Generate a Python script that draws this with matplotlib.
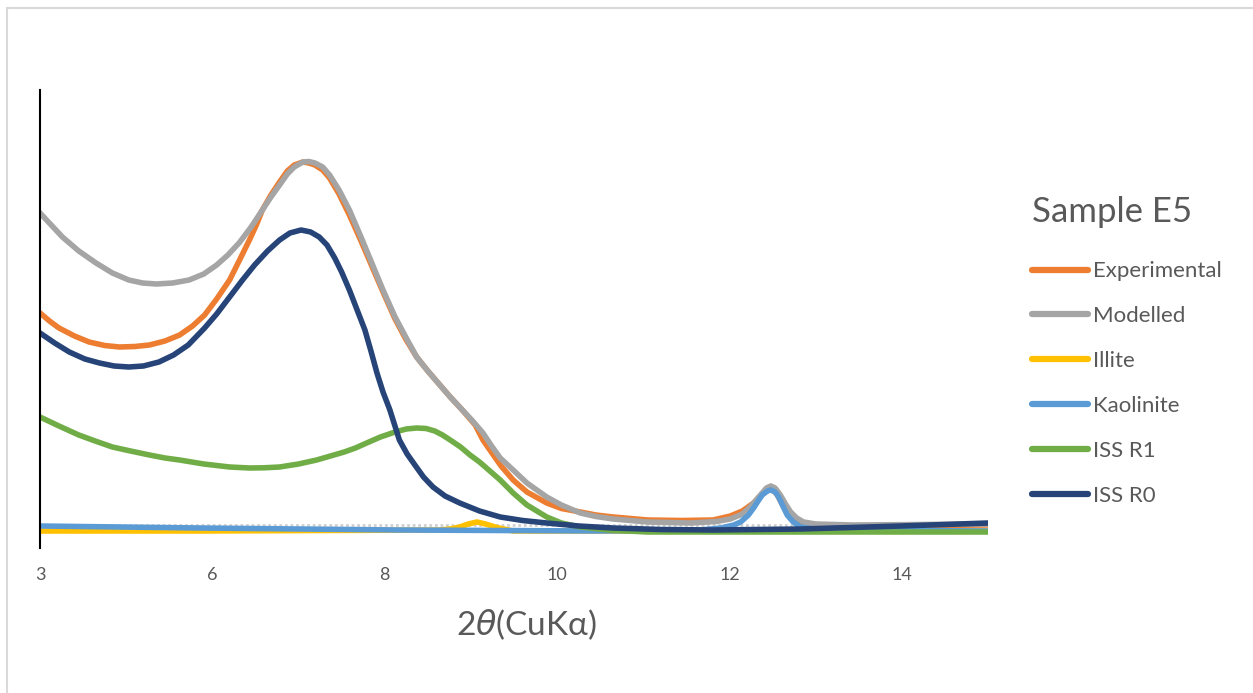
import matplotlib.pyplot as plt
from matplotlib.patches import Rectangle

plt.rcParams['font.family'] = ['Lato', 'DejaVu Sans']

# 2theta positions and intensities
exp_x = [4.00, 4.11, 4.22, 4.40, 4.57, 4.75, 4.92, 5.10, 5.27, 5.45, 5.62, 5.77,
         5.91, 6.05, 6.20, 6.31, 6.43, 6.51, 6.58, 6.68, 6.78, 6.87, 6.95, 7.05,
         7.12, 7.19, 7.28, 7.36, 7.47, 7.59, 7.72, 7.85, 7.98, 8.12, 8.25, 8.37,
         8.50, 8.63, 8.76, 8.90, 9.05, 9.14, 9.22, 9.35, 9.49, 9.65, 9.88, 10.05,
         10.27, 10.45, 10.65, 11.05, 11.45, 11.81, 12.01, 12.15, 12.28, 12.38,
         12.48, 12.55, 12.63, 12.71, 12.83, 13.44, 15.0]
exp_y = [2170, 2090, 2020, 1940, 1880, 1845, 1830, 1835, 1850, 1890, 1950, 2040,
         2150, 2310, 2500, 2690, 2900, 3050, 3200, 3350, 3480, 3590, 3650, 3680,
         3670, 3650, 3600, 3520, 3360, 3150, 2900, 2640, 2380, 2110, 1900, 1730,
         1590, 1460, 1330, 1200, 1050, 900, 800, 640, 500, 380, 270, 215,
         180, 150, 130, 100, 95, 100, 140, 190, 270, 360,
         420, 360, 230, 120, 50, 40, 50]

mod_x = [4.00, 4.13, 4.26, 4.45, 4.65, 4.84, 5.03, 5.19, 5.35, 5.54, 5.73, 5.90,
         6.05, 6.18, 6.31, 6.45, 6.58, 6.68, 6.78, 6.87, 6.95, 7.05, 7.12, 7.19,
         7.28, 7.36, 7.47, 7.59, 7.72, 7.85, 7.98, 8.12, 8.25, 8.37, 8.50, 8.63,
         8.76, 8.89, 9.02, 9.14, 9.24, 9.34, 9.49, 9.65, 9.88, 10.05, 10.27,
         10.45, 10.65, 11.05, 11.55, 11.85, 12.01, 12.15, 12.24, 12.36, 12.43,
         12.48, 12.53, 12.59, 12.65, 12.71, 12.78, 12.86, 13.00, 13.44, 15.0]
mod_y = [3170, 3050, 2930, 2790, 2670, 2570, 2500, 2470, 2460, 2470, 2500, 2560,
         2650, 2750, 2870, 3030, 3200, 3330, 3450, 3560, 3630, 3680, 3685, 3670,
         3630, 3550, 3400, 3200, 2940, 2670, 2400, 2130, 1920, 1730, 1590, 1460,
         1330, 1210, 1090, 970, 840, 720, 600, 470, 330, 250, 170,
         135, 110, 80, 70, 85, 110, 160, 230, 350, 420,
         440, 420, 350, 260, 180, 120, 80, 60, 50, 60]

ill_x = [4.00, 5.85, 8.64, 8.76, 8.87, 8.97, 9.07, 9.17, 9.28, 9.38, 9.49, 11.66, 15.0]
ill_y = [-10, -10, 0, 10, 30, 60, 80, 60, 30, 10, -10, -10, -10]

kao_x = [4.00, 5.85, 8.17, 10.50, 11.66, 11.90, 12.05, 12.13, 12.22, 12.28, 12.34,
         12.38, 12.44, 12.48, 12.53, 12.57, 12.62, 12.67, 12.74, 12.83, 13.06, 15.0]
kao_y = [40, 20, 0, -10, 0, 20, 50, 80, 150, 220, 300,
         350, 390, 400, 380, 330, 240, 150, 80, 30, 0, -10]

r1_x = [4.00, 4.22, 4.45, 4.64, 4.84, 5.05, 5.27, 5.45, 5.62, 5.90, 6.20, 6.43,
        6.60, 6.78, 7.00, 7.21, 7.37, 7.53, 7.66, 7.79, 7.95, 8.12, 8.25, 8.37,
        8.48, 8.58, 8.67, 8.76, 8.88, 8.99, 9.10, 9.22, 9.34, 9.49, 9.65, 9.88,
        10.05, 10.27, 10.60, 11.05, 15.0]
r1_y = [1130, 1040, 950, 890, 830, 790, 750, 720, 700, 660, 630, 620,
        622, 630, 660, 700, 740, 780, 820, 870, 930, 980, 1010, 1020,
        1015, 990, 950, 900, 830, 750, 680, 590, 500, 370, 250, 130,
        70, 30, 0, -20, -20]

r0_x = [4.00, 4.17, 4.34, 4.52, 4.69, 4.86, 5.03, 5.20, 5.38, 5.55, 5.72, 5.91,
        6.05, 6.20, 6.35, 6.49, 6.64, 6.78, 6.90, 7.03, 7.14, 7.24, 7.33, 7.42,
        7.50, 7.59, 7.68, 7.77, 7.84, 7.91, 7.98, 8.06, 8.17, 8.26, 8.35, 8.45,
        8.56, 8.70, 8.87, 9.10, 9.34, 9.60, 9.88, 10.25, 10.65, 11.20, 11.81,
        12.83, 13.99, 15.0]
r0_y = [1970, 1870, 1780, 1710, 1670, 1640, 1630, 1640, 1680, 1750, 1850, 2020,
        2160, 2330, 2500, 2650, 2790, 2900, 2970, 3000, 2980, 2930, 2850, 2720,
        2580, 2400, 2200, 2000, 1790, 1570, 1380, 1200, 900, 760, 650, 530,
        430, 340, 270, 190, 130, 95, 70, 40, 20, 5, 0,
        10, 40, 70]

tick_pos = [4, 6, 8, 10, 12, 14]
tick_labels = ['3', '6', '8', '10', '12', '14']

fig = plt.figure(figsize=(12.53, 6.93), dpi=100)
ax = fig.add_axes([40 / 1253, 145 / 693, 948 / 1253, 458 / 693])

ax.axhline(50, color='#D0D0D0', lw=2, ls=(0, (1, 1)), zorder=1)

lw = 4.0
ax.plot(exp_x, exp_y, color='#ED7D31', lw=lw, label='Experimental', solid_joinstyle='round')
ax.plot(mod_x, mod_y, color='#A5A5A5', lw=lw, label='Modelled', solid_joinstyle='round')
ax.plot(ill_x, ill_y, color='#FFC000', lw=lw, label='Illite', solid_joinstyle='round')
ax.plot(kao_x, kao_y, color='#5B9BD5', lw=lw, label='Kaolinite', solid_joinstyle='round')
ax.plot(r1_x, r1_y, color='#70AD47', lw=lw, label='ISS R1', solid_joinstyle='round')
ax.plot(r0_x, r0_y, color='#264478', lw=lw, label='ISS R0', solid_joinstyle='round')

ax.set_xlim(4, 15)
ax.set_ylim(-180, 4400)
ax.set_xticks(tick_pos)
ax.set_xticklabels(tick_labels)
ax.set_yticks([])
ax.tick_params(axis='x', length=0, pad=14, labelsize=13, labelcolor='#595959')
for s in ['top', 'right', 'bottom']:
    ax.spines[s].set_visible(False)
ax.spines['left'].set_color('black')
ax.spines['left'].set_linewidth(1.5)

xl = ax.set_xlabel(r'2$\theta$(CuKα)', fontsize=24, color='#595959')
xl.set_va('center')
ax.xaxis.set_label_coords((526 - 40) / 948, (548 - 625) / 458)

leg = ax.legend(loc='upper left', bbox_to_anchor=(1012 / 1253, 1 - 176 / 693),
                bbox_transform=fig.transFigure, frameon=False, fontsize=16,
                title='Sample E5', title_fontsize=25, handlelength=2.5,
                handletextpad=0.25, labelspacing=1.12)
leg._legend_box.align = 'left'
leg._legend_box.sep = 24
plt.setp(leg.get_title(), color='#595959')
for t in leg.get_texts():
    t.set_color('#595959')
for h in leg.get_lines():
    h.set_solid_capstyle('round')
    h.set_linewidth(4.5)

fig.add_artist(Rectangle((7 / 1253, -1), 2, 1 + (693 - 8) / 693, transform=fig.transFigure,
                         fill=False, edgecolor='#D9D9D9', lw=1.5, clip_on=False))

fig.savefig('out.png', dpi=100)
